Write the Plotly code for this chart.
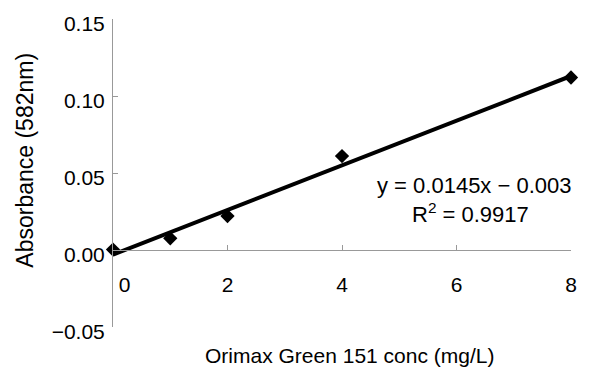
import plotly.graph_objects as go

conc = [0, 1, 2, 4, 8]
absorb = [0.0003, 0.0076, 0.022, 0.061, 0.112]
slope = 0.0145
intercept = -0.003
fit_x = [0, 8]
fit_y = [slope * x + intercept for x in fit_x]

x_ticks = [0, 2, 4, 6, 8]
x_ticktext = ["\u00a0\u00a0\u00a0\u00a00", "2", "4", "6", "8"]
y_ticks = [-0.05, 0.0, 0.05, 0.10, 0.15]
y_ticktext = ["\u22120.05", "0.00", "0.05", "0.10", "0.15"]

FONT = "Liberation Sans, Arial, sans-serif"

fig = go.Figure()
fig.add_trace(go.Scatter(x=fit_x, y=fit_y, mode="lines",
                         line=dict(color="black", width=4), cliponaxis=False,
                         showlegend=False))
fig.add_trace(go.Scatter(x=conc, y=absorb, mode="markers",
                         marker=dict(symbol="diamond", size=11, color="black"),
                         cliponaxis=False, showlegend=False))

# regression equation
fig.add_annotation(x=1.0, xref="paper", xshift=3, y=0.0419, yref="y",
                   xanchor="right", yanchor="middle",
                   text="y = 0.0145x \u2212 0.003", showarrow=False,
                   font=dict(family=FONT, size=22, color="black"))
fig.add_annotation(x=0.769, xref="paper", xshift=5, y=0.0241, yref="y",
                   xanchor="center", yanchor="middle",
                   text="R<sup>2</sup> = 0.9917", showarrow=False,
                   font=dict(family=FONT, size=22, color="black"))

# axis titles
fig.add_annotation(x=0, xref="paper", xshift=-88, xanchor="center",
                   y=0.54, yref="paper", yanchor="middle", textangle=-90,
                   text="Absorbance (582nm)", showarrow=False,
                   font=dict(family=FONT, size=23, color="black"))
fig.add_annotation(x=0.516, xref="paper", xanchor="center",
                   y=0, yref="paper", yshift=-28, yanchor="middle",
                   text="Orimax Green 151 conc (mg/L)", showarrow=False,
                   font=dict(family=FONT, size=21, color="black"))

fig.update_layout(
    width=589, height=374,
    margin=dict(l=113, r=13, t=12, b=47),
    paper_bgcolor="white", plot_bgcolor="white",
    font=dict(family=FONT, size=20, color="black"),
    xaxis=dict(range=[0, 8], anchor="free", position=0.25,
               tickvals=x_ticks, ticktext=x_ticktext,
               tickfont=dict(size=21),
               showline=True, linecolor="#999", linewidth=1,
               ticks="inside", ticklen=5, tickcolor="#999",
               ticklabelstandoff=16, showgrid=False, zeroline=False),
    yaxis=dict(range=[-0.05, 0.15], tickvals=y_ticks, ticktext=y_ticktext,
               tickfont=dict(size=21),
               showline=True, linecolor="#999", linewidth=1,
               ticks="inside", ticklen=5, tickcolor="#999",
               ticklabelstandoff=3, ticklabelshift=5,
               showgrid=False, zeroline=False),
)

fig.write_html("out.html")
